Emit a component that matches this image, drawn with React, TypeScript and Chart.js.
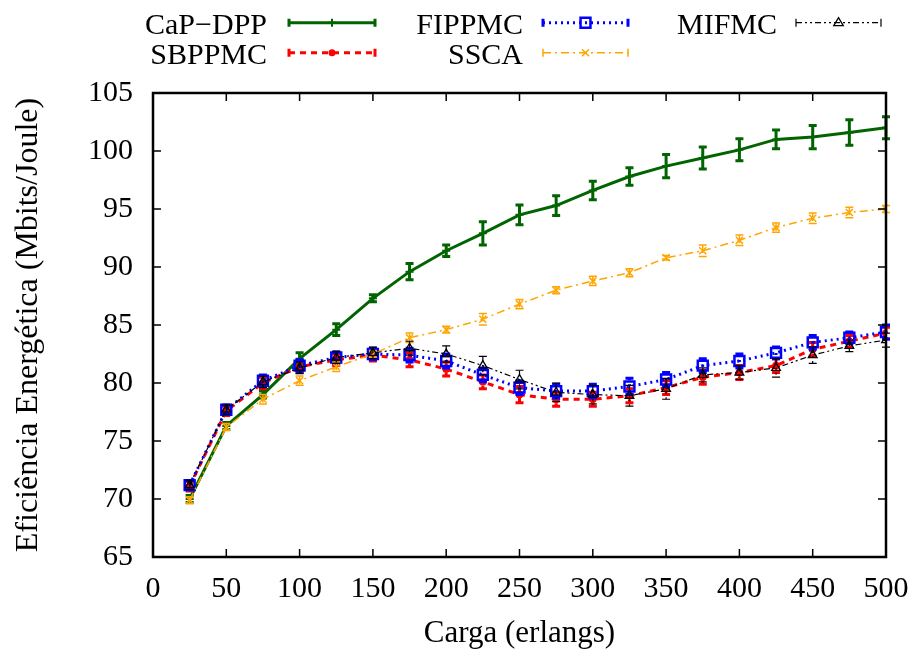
import { useEffect, useRef } from 'react';
import { Chart, registerables } from 'chart.js';

Chart.register(...registerables);

const loads = [25, 50, 75, 100, 125, 150, 175, 200, 225, 250, 275, 300, 325, 350, 375, 400, 425, 450, 475, 500];

const capDpp = [70.0, 76.3, 79.0, 82.1, 84.6, 87.3, 89.6, 91.4, 92.9, 94.5, 95.3, 96.6, 97.8, 98.7, 99.4, 100.1, 101.0, 101.2, 101.6, 102.0];
const capDppErr = [0.3, 0.3, 0.3, 0.5, 0.5, 0.3, 0.7, 0.5, 1.0, 0.85, 0.85, 0.8, 0.75, 1.0, 0.95, 0.95, 0.8, 1.0, 1.1, 0.95];

const sbppmc = [71.1, 77.6, 80.0, 81.4, 82.0, 82.4, 82.0, 81.2, 80.1, 79.0, 78.6, 78.6, 78.9, 79.6, 80.5, 80.9, 81.5, 82.9, 83.6, 84.3];
const sbppmcErr = [0.4, 0.4, 0.5, 0.5, 0.5, 0.5, 0.6, 0.6, 0.6, 0.7, 0.6, 0.6, 0.6, 0.6, 0.6, 0.6, 0.6, 0.6, 0.5, 0.5];

const fippmc = [71.2, 77.7, 80.2, 81.5, 82.2, 82.5, 82.4, 81.9, 80.7, 79.6, 79.3, 79.3, 79.7, 80.3, 81.5, 81.9, 82.6, 83.5, 83.9, 84.4];
const fippmcErr = [0.4, 0.4, 0.5, 0.5, 0.5, 0.5, 0.6, 0.6, 0.6, 0.6, 0.6, 0.6, 0.7, 0.6, 0.6, 0.6, 0.5, 0.6, 0.5, 0.6];

const ssca = [69.9, 76.2, 78.6, 80.2, 81.4, 82.5, 83.9, 84.6, 85.5, 86.8, 88.0, 88.8, 89.5, 90.8, 91.4, 92.3, 93.4, 94.2, 94.7, 95.0];
const sscaErr = [0.3, 0.3, 0.4, 0.4, 0.4, 0.3, 0.4, 0.3, 0.5, 0.4, 0.3, 0.4, 0.35, 0.2, 0.5, 0.45, 0.4, 0.45, 0.45, 0.3];

const mifmc = [71.2, 77.7, 80.1, 81.3, 82.2, 82.6, 83.0, 82.5, 81.5, 80.3, 79.2, 79.0, 78.9, 79.5, 80.7, 80.9, 81.3, 82.4, 83.2, 83.7];
const mifmcErr = [0.4, 0.4, 0.5, 0.5, 0.5, 0.5, 0.6, 0.7, 0.8, 0.8, 0.8, 0.8, 0.9, 0.9, 0.6, 0.6, 0.8, 0.7, 0.5, 0.6];

const xTicks = [0, 50, 100, 150, 200, 250, 300, 350, 400, 450, 500];
const yTicks = [65, 70, 75, 80, 85, 90, 95, 100, 105];

const xTitle = 'Carga (erlangs)';
const yTitle = 'Eficiência Energética (Mbits/Joule)';

const FONT = '"Liberation Serif", "Times New Roman", serif';

type Series = {
  label: string;
  values: number[];
  errors: number[];
  color: string;
  width: number;
  dash: number[];
  marker: string;
  radius: number;
  filled: boolean;
  markerWidth: number;
  order: number;
  legendCol: number;
  legendRow: number;
};

const series: Series[] = [
  { label: 'CaP\u2212DPP', values: capDpp, errors: capDppErr, color: '#006400', width: 3, dash: [], marker: 'cross', radius: 4, filled: false, markerWidth: 2, order: 5, legendCol: 0, legendRow: 0 },
  { label: 'SBPPMC', values: sbppmc, errors: sbppmcErr, color: '#ff0000', width: 3, dash: [6, 5], marker: 'circle', radius: 3.5, filled: true, markerWidth: 1, order: 4, legendCol: 0, legendRow: 1 },
  { label: 'FIPPMC', values: fippmc, errors: fippmcErr, color: '#0000ff', width: 3, dash: [2, 4], marker: 'rect', radius: 7, filled: false, markerWidth: 2.5, order: 3, legendCol: 1, legendRow: 0 },
  { label: 'SSCA', values: ssca, errors: sscaErr, color: '#ffa500', width: 1.5, dash: [8, 4, 2, 4], marker: 'crossRot', radius: 5, filled: false, markerWidth: 1.5, order: 2, legendCol: 1, legendRow: 1 },
  { label: 'MIFMC', values: mifmc, errors: mifmcErr, color: '#000000', width: 1.2, dash: [6, 3, 2, 3, 2, 3], marker: 'triangle', radius: 5, filled: false, markerWidth: 1.3, order: 1, legendCol: 2, legendRow: 0 },
];

function drawMarker(ctx: CanvasRenderingContext2D, s: Series, x: number, y: number) {
  ctx.save();
  ctx.setLineDash([]);
  ctx.strokeStyle = s.color;
  ctx.fillStyle = s.color;
  ctx.lineWidth = s.markerWidth;
  const r = s.radius;
  ctx.beginPath();
  if (s.marker === 'circle') {
    ctx.arc(x, y, r, 0, Math.PI * 2);
    ctx.fill();
  } else if (s.marker === 'rect') {
    const h = r * Math.SQRT1_2;
    ctx.rect(x - h, y - h, 2 * h, 2 * h);
    ctx.stroke();
  } else if (s.marker === 'crossRot') {
    const h = r * Math.SQRT1_2;
    ctx.moveTo(x - h, y - h); ctx.lineTo(x + h, y + h);
    ctx.moveTo(x - h, y + h); ctx.lineTo(x + h, y - h);
    ctx.stroke();
  } else if (s.marker === 'triangle') {
    ctx.moveTo(x, y - r);
    ctx.lineTo(x + r * 0.95, y + r * 0.6);
    ctx.lineTo(x - r * 0.95, y + r * 0.6);
    ctx.closePath();
    ctx.stroke();
  } else {
    ctx.moveTo(x - r, y); ctx.lineTo(x + r, y);
    ctx.moveTo(x, y - r); ctx.lineTo(x, y + r);
    ctx.stroke();
  }
  ctx.restore();
}

const errorBarPlugin = {
  id: 'errorBars',
  afterDatasetDraw(chart: any, args: any) {
    const s = series[args.index];
    if (!s) return;
    const ctx = chart.ctx as CanvasRenderingContext2D;
    const xs = chart.scales.x;
    const ys = chart.scales.y;
    ctx.save();
    ctx.strokeStyle = s.color;
    ctx.lineWidth = s.width;
    const cap = 4;
    s.values.forEach((v, i) => {
      const px = xs.getPixelForValue(loads[i]);
      const top = ys.getPixelForValue(v + s.errors[i]);
      const bot = ys.getPixelForValue(v - s.errors[i]);
      ctx.setLineDash(s.dash);
      ctx.beginPath();
      ctx.moveTo(px, top);
      ctx.lineTo(px, bot);
      ctx.stroke();
      ctx.setLineDash([]);
      ctx.beginPath();
      ctx.moveTo(px - cap, top); ctx.lineTo(px + cap, top);
      ctx.moveTo(px - cap, bot); ctx.lineTo(px + cap, bot);
      ctx.stroke();
    });
    ctx.restore();
  },
};

const framePlugin = {
  id: 'frame',
  afterDatasetsDraw(chart: any) {
    const ctx = chart.ctx as CanvasRenderingContext2D;
    const { left, right, top, bottom } = chart.chartArea;
    const xs = chart.scales.x;
    const ys = chart.scales.y;
    ctx.save();
    ctx.setLineDash([]);
    ctx.strokeStyle = '#000';
    ctx.lineWidth = 1.5;
    const tl = 8;
    ctx.beginPath();
    xTicks.forEach((t) => {
      const px = xs.getPixelForValue(t);
      ctx.moveTo(px, bottom); ctx.lineTo(px, bottom - tl);
      ctx.moveTo(px, top); ctx.lineTo(px, top + tl);
    });
    yTicks.forEach((t) => {
      const py = ys.getPixelForValue(t);
      ctx.moveTo(left, py); ctx.lineTo(left + tl, py);
      ctx.moveTo(right, py); ctx.lineTo(right - tl, py);
    });
    ctx.stroke();
    ctx.lineWidth = 2.5;
    ctx.strokeRect(left, top, right - left, bottom - top);
    ctx.restore();
  },
};

const legendPlugin = {
  id: 'gpLegend',
  afterDraw(chart: any) {
    const ctx = chart.ctx as CanvasRenderingContext2D;
    const textRight = [267, 523, 777];
    const sampleStart = [289, 543, 796];
    const sampleEnd = [375, 628, 881];
    const baseY = [33.5, 64];
    const lineY = [22.7, 52.7];
    ctx.save();
    ctx.font = `30px ${FONT}`;
    ctx.fillStyle = '#000';
    ctx.textAlign = 'right';
    ctx.textBaseline = 'alphabetic';
    series.forEach((s) => {
      const c = s.legendCol;
      const r = s.legendRow;
      ctx.fillText(s.label, textRight[c], baseY[r]);
      const x1 = sampleStart[c];
      const x2 = sampleEnd[c];
      const y = lineY[r];
      ctx.strokeStyle = s.color;
      ctx.lineWidth = s.width;
      ctx.setLineDash(s.dash);
      ctx.beginPath();
      ctx.moveTo(x1, y); ctx.lineTo(x2, y);
      ctx.stroke();
      ctx.setLineDash([]);
      ctx.beginPath();
      ctx.moveTo(x1, y - 4); ctx.lineTo(x1, y + 4);
      ctx.moveTo(x2, y - 4); ctx.lineTo(x2, y + 4);
      ctx.stroke();
      drawMarker(ctx, s, (x1 + x2) / 2, y);
    });
    ctx.restore();
  },
};

export default function App() {
  const canvasRef = useRef<HTMLCanvasElement | null>(null);

  useEffect(() => {
    if (!canvasRef.current) return;
    const chart = new Chart(canvasRef.current, {
      type: 'line',
      data: {
        datasets: series.map((s) => ({
          label: s.label,
          data: s.values.map((v, i) => ({ x: loads[i], y: v })),
          borderColor: s.color,
          backgroundColor: s.filled ? s.color : 'rgba(0,0,0,0)',
          borderWidth: s.width,
          borderDash: s.dash,
          pointStyle: s.marker as any,
          pointRadius: s.radius,
          pointBorderWidth: s.markerWidth,
          pointBorderColor: s.color,
          pointBackgroundColor: s.filled ? s.color : 'rgba(0,0,0,0)',
          tension: 0,
          fill: false,
          order: s.order,
        })),
      },
      options: {
        responsive: false,
        animation: false,
        events: [],
        layout: { padding: { top: 93, right: 30, bottom: 0, left: 0 } },
        plugins: {
          legend: { display: false },
          tooltip: { enabled: false },
        },
        scales: {
          x: {
            type: 'linear',
            min: 0,
            max: 500,
            afterFit: (sc: any) => { sc.height = 100; sc.paddingLeft = 0; sc.paddingRight = 0; },
            afterBuildTicks: (sc: any) => { sc.ticks = xTicks.map((v) => ({ value: v })); },
            grid: { display: false, drawTicks: false },
            border: { display: false },
            ticks: { font: { family: FONT, size: 30 }, color: '#000', padding: 14, autoSkip: false, maxRotation: 0 },
            title: { display: true, text: xTitle, font: { family: FONT, size: 31 }, color: '#000', padding: { top: 0, bottom: 5 } },
          },
          y: {
            type: 'linear',
            min: 65,
            max: 105,
            afterFit: (sc: any) => { sc.width = 153; sc.paddingTop = 0; sc.paddingBottom = 0; },
            afterBuildTicks: (sc: any) => { sc.ticks = yTicks.map((v) => ({ value: v })); },
            grid: { display: false, drawTicks: false },
            border: { display: false },
            ticks: { font: { family: FONT, size: 30 }, color: '#000', padding: 20, autoSkip: false },
            title: { display: true, text: yTitle, font: { family: FONT, size: 32 }, color: '#000', padding: { top: 9, bottom: 0 } },
          },
        },
      },
      plugins: [errorBarPlugin, framePlugin, legendPlugin],
    });
    return () => chart.destroy();
  }, []);

  return (
    <div style={{ position: 'absolute', left: 0, top: 0, width: 916, height: 657, background: '#fff' }}>
      <canvas ref={canvasRef} width={916} height={657} />
    </div>
  );
}
